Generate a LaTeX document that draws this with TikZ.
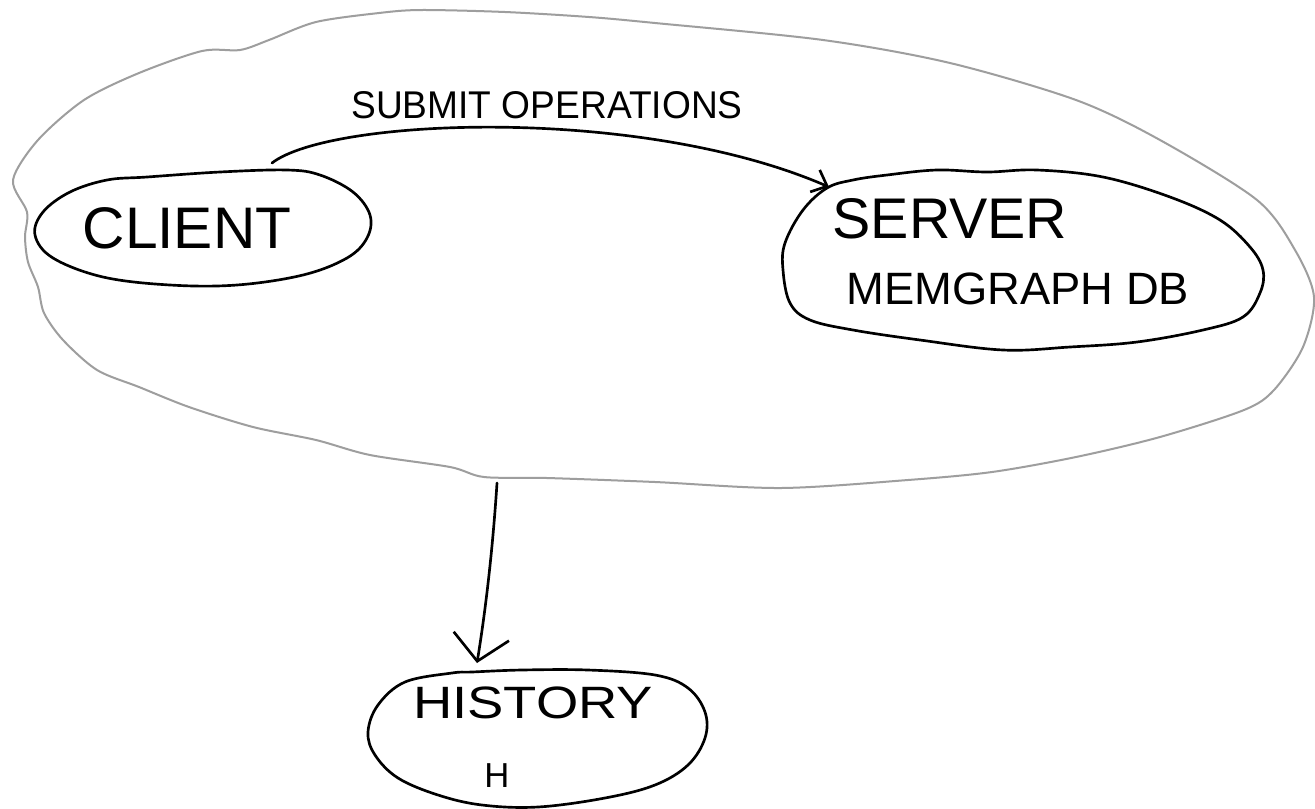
\documentclass[tikz,border=0pt]{standalone}
\usepackage{fontspec}
\usepackage{graphicx}
\setmainfont{Liberation Sans}
\usetikzlibrary{arrows.meta}
\begin{document}
\begin{tikzpicture}[x=0.75pt,y=-0.75pt,
  bubble/.style={draw=black,line width=2pt,line join=round},
  ink/.style={inner sep=0pt,outer sep=0pt,text=black},
  flow/.style={draw=black,line width=2pt,line cap=round,line join=round},
  zone/.style={draw=black!38,line width=1.5pt,line join=round}]
\useasboundingbox[fill=white] (0,0) rectangle (1315,808);

% system boundary (hand-drawn outline)
\draw[zone] plot[smooth cycle,tension=0.5] coordinates {
  (13,180) (38,140) (84,100) (139,73) (202,51) (240,50) (269,40)
  (316,22) (379,13) (421,10) (505,12) (589,17) (655,23) (823,40) (950,63)
  (1076,100) (1160,140) (1257,200) (1295,250) (1314,297) (1303,347)
  (1274,390) (1244,410) (1160,437) (1076,457) (992,472) (908,480)
  (781,488) (655,482) (547,478) (484,477) (450,467) (370,455) (316,440)
  (253,427) (189,407) (139,387) (97,370) (63,340) (44,313) (38,287)
  (28,262) (25,237) (27,212)};

% component outlines
\draw[bubble] plot[smooth cycle,tension=0.6] coordinates {
  (147,177) (220,172) (287,170) (320,175) (353,192) (370,215) (367,238)
  (347,258) (303,275) (237,285) (170,285) (103,277) (53,258) (35,235)
  (43,212) (70,192) (107,180)};
\draw[bubble] plot[smooth cycle,tension=0.6] coordinates {
  (827,188) (803,210) (785,243) (783,270) (790,303) (810,320) (853,330)
  (920,340) (1003,350) (1070,347) (1137,342) (1203,330) (1243,317)
  (1260,293) (1263,270) (1250,247) (1220,220) (1170,197) (1103,177)
  (1037,170) (987,172) (937,170) (887,175) (853,180)};
\draw[bubble] plot[smooth cycle,tension=0.6] coordinates {
  (452,673) (405,682) (378,705) (368,732) (375,755) (398,778) (438,795)
  (482,805) (538,807) (605,798) (655,785) (688,765) (705,738) (705,712)
  (688,688) (655,675) (588,670) (522,670) (472,672)};

% named points where the connectors meet the outlines
\coordinate (client) at (202,228);
\coordinate (server) at (1024,260);
\coordinate (history) at (537,740);
\coordinate (clientport) at (272,163);
\coordinate (serverport) at (829,187);
\coordinate (outlet) at (497,483);
\coordinate (historyport) at (477,663);

% labels
\node[ink,font=\fontsize{44}{44}\selectfont] (clientlabel) at (187,228) {CLIENT};
\node[ink,font=\fontsize{43}{43}\selectfont] (serverlabel) at (950,219) {SERVER};
\node[ink,font=\fontsize{34}{34}\selectfont] (dblabel) at (1018,289) {MEMGRAPH DB};
\node[ink,font=\fontsize{34}{34}\selectfont] (historylabel) at (533,703) {\scalebox{1.2}[1]{HISTORY}};
\node[ink,font=\fontsize{26}{26}\selectfont] (hlabel) at (497,776) {H};
\node[ink,font=\fontsize{29}{29}\selectfont] (submitlabel) at (547,105) {\scalebox{0.96}[1]{SUBMIT OPERATIONS}};

% connectors
\draw[flow,-{Straight Barb[length=10pt,width=18pt]}]
  (clientport) .. controls (330,118) and (640,105) .. (serverport);
\draw[flow,-{Straight Barb[length=19pt,width=42pt]}]
  (outlet) .. controls (492,560) and (484,620) .. (historyport);
\end{tikzpicture}
\end{document}
